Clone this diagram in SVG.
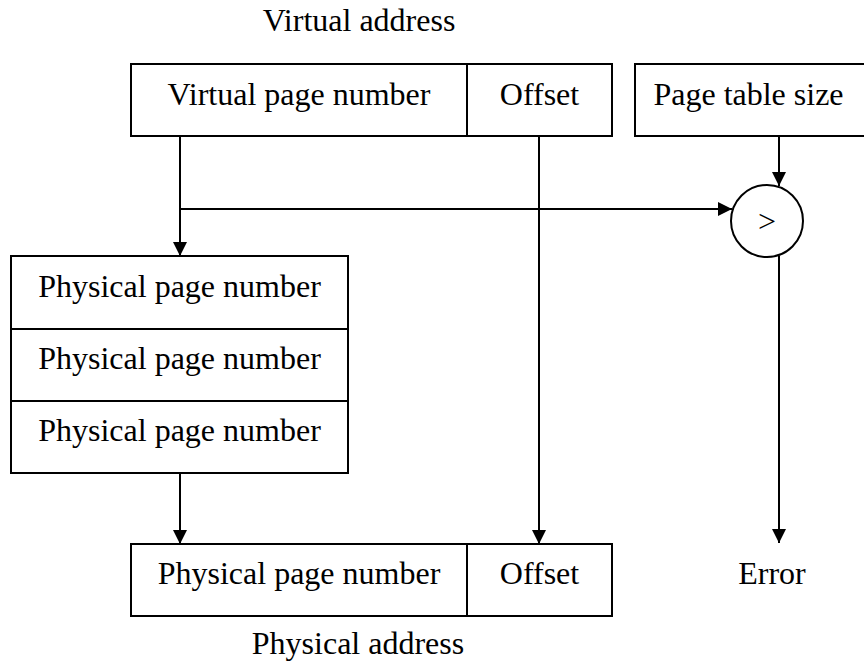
<svg xmlns="http://www.w3.org/2000/svg" width="864" height="663" viewBox="0 0 864 663">
  <style>
    .box { fill: #fff; stroke: #000; stroke-width: 2; }
    .lbl { font-family: "Liberation Serif", "Times New Roman", serif; font-size: 32px; fill: #000; text-anchor: middle; }
    .wire { fill: none; stroke: #000; stroke-width: 2; }
  </style>
  <defs>
    <marker id="arrow" viewBox="0 0 14 14" refX="14" refY="7" markerWidth="14" markerHeight="14" markerUnits="userSpaceOnUse" orient="auto">
      <path d="M0,0 L14,7 L0,14 Z" fill="#000"/>
    </marker>
  </defs>
  <rect width="864" height="663" fill="#fff"/>

  <!-- Virtual address -->
  <g id="virtual-address">
    <text class="lbl" x="359" y="31">Virtual address</text>
    <rect class="box" x="131" y="64" width="336" height="72"/>
    <rect class="box" x="467" y="64" width="145" height="72"/>
    <text class="lbl" x="299" y="105">Virtual page number</text>
    <text class="lbl" x="539.5" y="105">Offset</text>
  </g>

  <!-- Page table size register -->
  <g id="page-table-size">
    <rect class="box" x="635" y="64" width="232" height="72"/>
    <text class="lbl" x="748.5" y="105">Page table size</text>
  </g>

  <!-- Bounds comparator -->
  <g id="comparator">
    <circle class="box" cx="767" cy="221" r="36"/>
    <text class="lbl" x="767" y="232">&gt;</text>
  </g>

  <!-- Page table -->
  <g id="page-table">
    <rect class="box" x="11" y="256" width="337" height="73"/>
    <rect class="box" x="11" y="329" width="337" height="72"/>
    <rect class="box" x="11" y="401" width="337" height="72"/>
    <text class="lbl" x="179.5" y="297">Physical page number</text>
    <text class="lbl" x="179.5" y="369">Physical page number</text>
    <text class="lbl" x="179.5" y="441">Physical page number</text>
  </g>

  <!-- Physical address -->
  <g id="physical-address">
    <rect class="box" x="131" y="544" width="336" height="72"/>
    <rect class="box" x="467" y="544" width="145" height="72"/>
    <text class="lbl" x="299" y="584">Physical page number</text>
    <text class="lbl" x="539.5" y="584">Offset</text>
    <text class="lbl" x="358" y="654">Physical address</text>
  </g>

  <!-- Error output -->
  <g id="error">
    <text class="lbl" x="772" y="584">Error</text>
  </g>

  <!-- Connectors -->
  <g id="connectors">
    <path class="wire" d="M180,136 V256" marker-end="url(#arrow)"/>
    <path class="wire" d="M180,209 H732" marker-end="url(#arrow)"/>
    <path class="wire" d="M779,136 V186" marker-end="url(#arrow)"/>
    <path class="wire" d="M180,473 V544" marker-end="url(#arrow)"/>
    <path class="wire" d="M539,136 V544" marker-end="url(#arrow)"/>
    <path class="wire" d="M779,256 V543" marker-end="url(#arrow)"/>
  </g>
</svg>
